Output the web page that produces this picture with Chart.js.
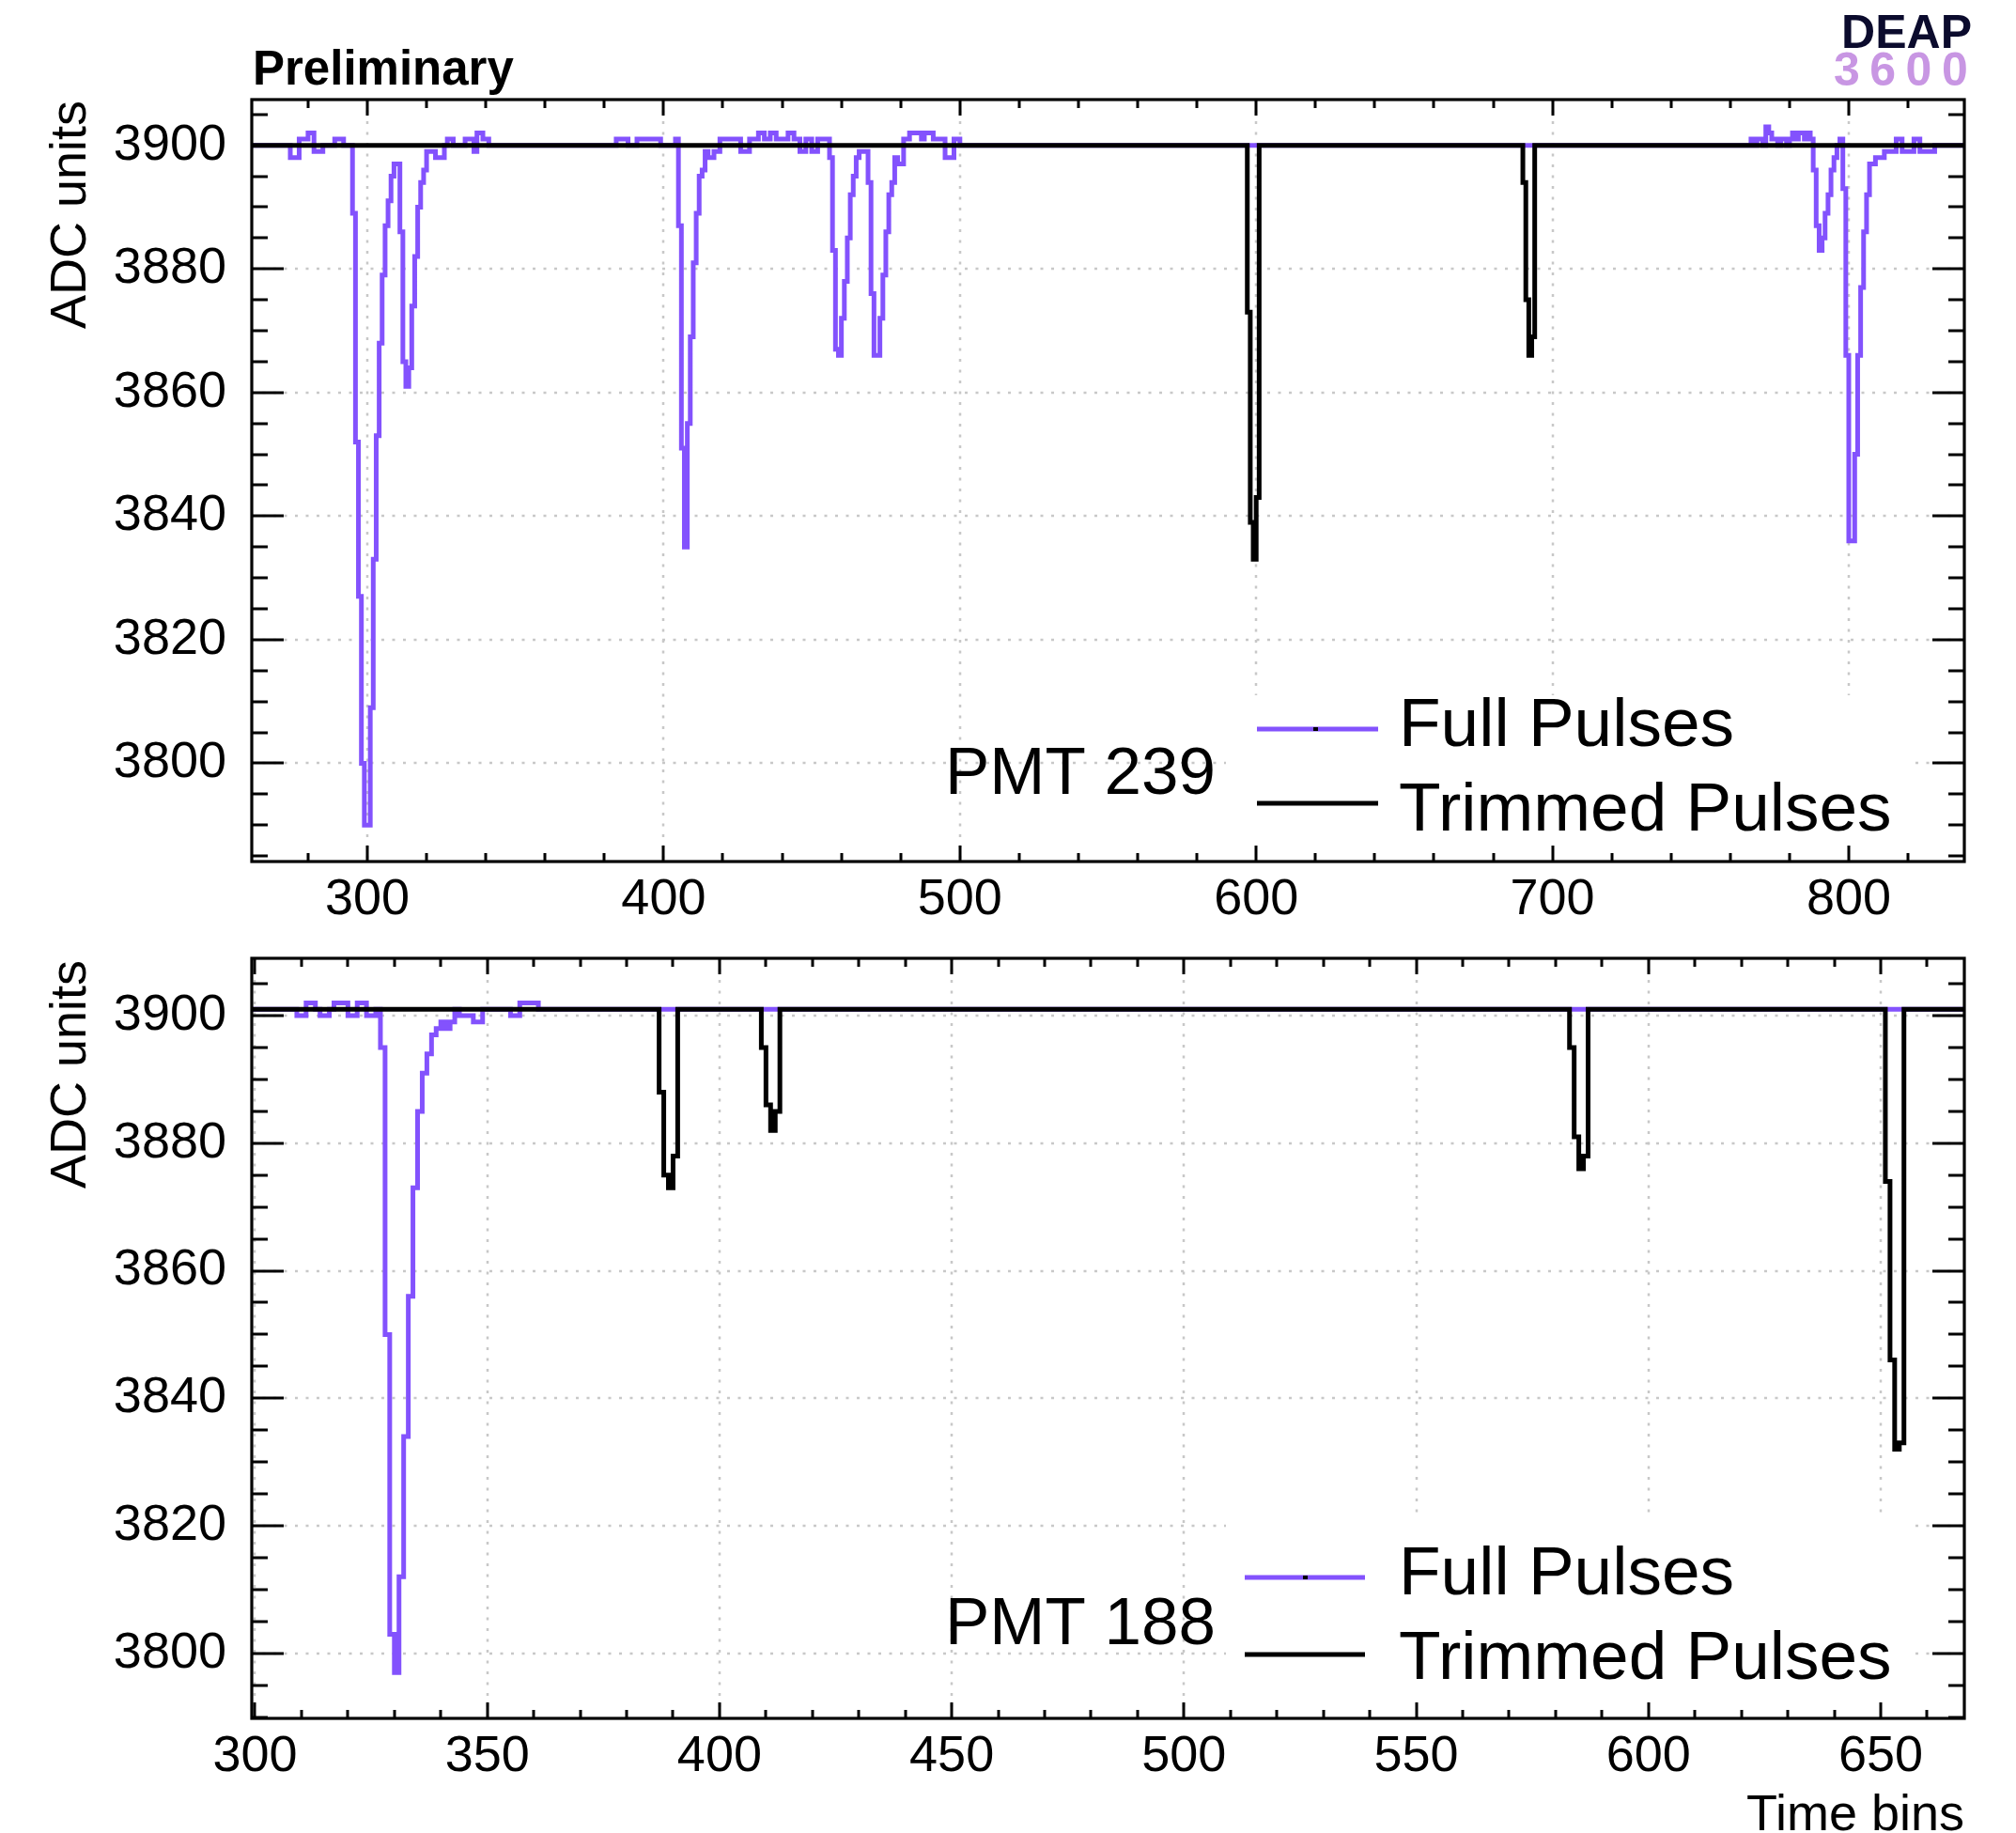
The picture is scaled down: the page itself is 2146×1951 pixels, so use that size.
<!DOCTYPE html>
<html>
<head>
<meta charset="utf-8">
<title>PMT pulses</title>
<script src="https://cdn.jsdelivr.net/npm/chart.js@4.4.1/dist/chart.umd.min.js"></script>
<style>
  html, body { margin: 0; padding: 0; background: #ffffff; }
  #wrap { position: relative; width: 2146px; height: 1951px; overflow: hidden; background: #fff; }
  canvas { position: absolute; left: 0; }
</style>
</head>
<body>
<div id="wrap">
  <canvas id="topChart" width="2146" height="1000" style="top:0px;width:2146px;height:1000px"></canvas>
  <canvas id="botChart" width="2146" height="991" style="top:960px;width:2146px;height:991px"></canvas>
</div>
<script>
// ===================== DATA =====================
// ---- Upper panel : PMT 239 ----
const top_xTicks = [300, 400, 500, 600, 700, 800];
const top_yTicks = [3800, 3820, 3840, 3860, 3880, 3900];
const top_baseline = 3900;            // ADC baseline of both series
const top_xRange = [261, 839];
const top_yRange = [3784.1, 3907.4];

// Full pulses (recorded windows), value per time bin starting at *_start
const top_full_1_start = 274;
const top_full_1 = [3898, 3898, 3898, 3901, 3901, 3901, 3902, 3902, 3899, 3899, 3899, 3900, 3900, 3900, 3900,
  3901, 3901, 3901, 3900, 3900, 3900,
  3889, 3852, 3827, 3800, 3790, 3790, 3809, 3833, 3853, 3868, 3879, 3887, 3891, 3895, 3897, 3897,
  3886, 3865, 3861, 3864, 3874, 3882, 3890, 3894, 3896, 3899, 3899, 3899, 3898, 3898, 3898,
  3900, 3901, 3901, 3900, 3900, 3900, 3900, 3901, 3901, 3901, 3899, 3902, 3902, 3901, 3901];

const top_full_2_start = 384;
const top_full_2 = [3901, 3901, 3901, 3901, 3900, 3900, 3900, 3901, 3901, 3901, 3901, 3901, 3901, 3901, 3901,
  3900, 3900, 3900, 3900, 3900, 3901,
  3887, 3851, 3835, 3855, 3869, 3881, 3889, 3895, 3896, 3899, 3898, 3898, 3899, 3899,
  3901, 3901, 3901, 3901, 3901, 3901, 3901, 3899, 3899, 3899, 3901, 3901, 3901, 3902, 3902, 3901, 3901,
  3902, 3902, 3901, 3901, 3901, 3901, 3902, 3902, 3901, 3901, 3899, 3899, 3901, 3901, 3899, 3899,
  3901, 3901, 3901, 3901,
  3898, 3883, 3867, 3866, 3872, 3878, 3885, 3892, 3895, 3898, 3899, 3899, 3899,
  3894, 3876, 3866, 3866, 3872, 3879, 3886, 3892, 3894, 3898, 3897, 3897,
  3901, 3901, 3902, 3902, 3902, 3902, 3901, 3902, 3902, 3902, 3901, 3901, 3901, 3901, 3898, 3898, 3898,
  3901, 3901];

const top_full_3_start = 767;
const top_full_3 = [3901, 3900, 3901, 3901, 3900, 3903, 3902, 3901, 3901, 3900, 3901, 3901, 3900, 3901, 3902,
  3901, 3902, 3902, 3901, 3902, 3901,
  3896, 3887, 3883, 3885, 3889, 3892, 3896, 3898, 3900, 3901,
  3893, 3866, 3836, 3836, 3850, 3866, 3877, 3886, 3892, 3897, 3897, 3898, 3898, 3898,
  3899, 3899, 3899, 3899, 3901, 3901, 3899, 3899, 3899, 3899, 3901, 3901, 3899, 3899, 3899, 3899, 3899];

// Trimmed pulses
const top_trim_1_start = 597;
const top_trim_1 = [3873, 3839, 3833, 3843];
const top_trim_2_start = 690;
const top_trim_2 = [3894, 3875, 3866, 3869];

// ---- Lower panel : PMT 188 ----
const bot_xTicks = [300, 350, 400, 450, 500, 550, 600, 650];
const bot_yTicks = [3800, 3820, 3840, 3860, 3880, 3900];
const bot_baseline = 3901;
const bot_xRange = [299.3, 668];
const bot_yRange = [3789.8, 3909.0];

const bot_full_1_start = 309;
const bot_full_1 = [3900, 3900, 3902, 3902, 3901, 3900, 3900, 3901, 3902, 3902, 3902, 3900, 3900, 3902, 3902,
  3900, 3900, 3901,
  3895, 3850, 3803, 3797, 3812, 3834, 3856, 3873, 3885, 3891, 3894, 3897, 3898, 3899, 3898, 3899,
  3901, 3900, 3900, 3900, 3899, 3899, 3901, 3901, 3901, 3901, 3901, 3901, 3900, 3900,
  3902, 3902, 3902, 3902];

const bot_trim_1_start = 387;
const bot_trim_1 = [3888, 3875, 3873, 3878];
const bot_trim_2_start = 409;
const bot_trim_2 = [3895, 3886, 3882, 3885];
const bot_trim_3_start = 583;
const bot_trim_3 = [3895, 3881, 3876, 3878];
const bot_trim_4_start = 651;
const bot_trim_4 = [3874, 3846, 3832, 3833];

// ===================== RENDERING =====================
const FONT = '"Liberation Sans", Arial, Helvetica, sans-serif';
const PURPLE = '#8352fd';

function buildSeries(range, base, segs) {
  const vals = new Map();
  segs.forEach(([start, arr]) => arr.forEach((v, i) => vals.set(start + i, v)));
  const pts = [];
  const b0 = Math.floor(range[0]), b1 = Math.ceil(range[1]);
  let last = base;
  for (let b = b0; b < b1; b++) {
    last = vals.has(b) ? vals.get(b) : base;
    pts.push({ x: b, y: last });
  }
  pts.push({ x: b1, y: last });
  return pts;
}

function text(ctx, str, x, y, font, align, color) {
  ctx.save();
  ctx.font = font;
  ctx.textAlign = align || 'left';
  ctx.textBaseline = 'alphabetic';
  ctx.fillStyle = color || '#000';
  ctx.fillText(str, x, y);
  ctx.restore();
}

function panelPlugin(c) {
  return {
    id: 'rootStyle' + c.id,
    beforeDatasetsDraw(chart) {
      const { ctx, chartArea: a, scales: { x, y } } = chart;
      // dotted grid at major ticks
      ctx.save();
      ctx.beginPath(); ctx.rect(a.left, a.top, a.width, a.height); ctx.clip();
      ctx.strokeStyle = '#c8c8c8'; ctx.lineWidth = 2.5; ctx.setLineDash([3, 8.5]);
      c.xTicks.forEach(v => {
        const px = Math.round(x.getPixelForValue(v));
        ctx.beginPath(); ctx.moveTo(px, a.top); ctx.lineTo(px, a.bottom); ctx.stroke();
      });
      c.yTicks.forEach(v => {
        const py = Math.round(y.getPixelForValue(v));
        ctx.beginPath(); ctx.moveTo(a.left, py); ctx.lineTo(a.right, py); ctx.stroke();
      });
      ctx.restore();
      // legend box (white, covers grid)
      const L = c.legend, oy = c.offsetY;
      ctx.save();
      ctx.fillStyle = '#ffffff';
      ctx.fillRect(L.box[0], L.box[1] - oy, L.box[2] - L.box[0], L.box[3] - L.box[1]);
      ctx.restore();
    },
    afterDraw(chart) {
      const { ctx, chartArea: a, scales: { x, y } } = chart;
      const oy = c.offsetY;
      // ticks inside frame on all four sides
      ctx.save();
      ctx.strokeStyle = '#000'; ctx.lineWidth = 3; ctx.lineCap = 'butt';
      ctx.beginPath();
      for (let k = Math.ceil(x.min / c.xMinor); k * c.xMinor <= x.max; k++) {
        const v = k * c.xMinor;
        const px = Math.round(x.getPixelForValue(v));
        const len = (v % c.xMajor === 0) ? 17 : 9;
        ctx.moveTo(px, a.bottom); ctx.lineTo(px, a.bottom - len);
        ctx.moveTo(px, a.top); ctx.lineTo(px, a.top + len);
      }
      for (let k = Math.ceil(y.min / c.yMinor); k * c.yMinor <= y.max; k++) {
        const v = k * c.yMinor;
        const py = Math.round(y.getPixelForValue(v));
        const len = (v % c.yMajor === 0) ? 34 : 17;
        ctx.moveTo(a.left, py); ctx.lineTo(a.left + len, py);
        ctx.moveTo(a.right, py); ctx.lineTo(a.right - len, py);
      }
      ctx.stroke();
      ctx.lineWidth = 3.2;
      ctx.strokeRect(a.left, a.top, a.right - a.left, a.bottom - a.top);
      ctx.restore();

      // y axis title
      ctx.save();
      ctx.translate(91, c.ytitleEnd - oy);
      ctx.rotate(-Math.PI / 2);
      ctx.font = '54px ' + FONT; ctx.textAlign = 'right'; ctx.textBaseline = 'alphabetic';
      ctx.fillStyle = '#000';
      ctx.fillText('ADC units', 0, 0);
      ctx.restore();

      // PMT label
      text(ctx, c.pmt, 1006, c.pmtY - oy, '71px ' + FONT, 'left');

      // legend
      const L = c.legend;
      ctx.save();
      ctx.lineCap = 'butt';
      ctx.lineWidth = 5;
      ctx.strokeStyle = PURPLE;
      ctx.beginPath(); ctx.moveTo(L.x0, L.y1 - oy); ctx.lineTo(L.x1, L.y1 - oy); ctx.stroke();
      ctx.fillStyle = '#000';
      ctx.fillRect(L.mx - 2, L.y1 - oy - 2, 5, 4);
      ctx.strokeStyle = '#000';
      ctx.beginPath(); ctx.moveTo(L.x0, L.y2 - oy); ctx.lineTo(L.x1, L.y2 - oy); ctx.stroke();
      ctx.restore();
      text(ctx, 'Full Pulses', 1489, L.t1 - oy, '73px ' + FONT, 'left');
      text(ctx, 'Trimmed Pulses', 1489, L.t2 - oy, '73px ' + FONT, 'left');

      if (c.extra) c.extra(ctx, oy);
    }
  };
}

function makePanel(c) {
  const full = buildSeries(c.xRange, c.baseline, c.fullSegs);
  const trim = buildSeries(c.xRange, c.baseline, c.trimSegs);
  return new Chart(document.getElementById(c.id), {
    type: 'line',
    data: {
      datasets: [
        { label: 'Trimmed Pulses', data: trim, borderColor: '#000000', borderWidth: 5, stepped: 'before',
          pointRadius: 0, fill: false, order: 0, borderJoinStyle: 'miter', borderCapStyle: 'butt' },
        { label: 'Full Pulses', data: full, borderColor: PURPLE, borderWidth: 5, stepped: 'before',
          pointRadius: 0, fill: false, order: 1, borderJoinStyle: 'miter', borderCapStyle: 'butt' }
      ]
    },
    options: {
      responsive: false, animation: false, events: [],
      devicePixelRatio: 1,
      layout: { padding: { left: 0, right: 55, top: c.padTop, bottom: 0 } },
      plugins: { legend: { display: false }, tooltip: { enabled: false }, title: { display: false } },
      scales: {
        x: {
          type: 'linear', min: c.xRange[0], max: c.xRange[1],
          afterBuildTicks: s => { s.ticks = c.xTicks.map(v => ({ value: v })); },
          afterFit: s => { s.height = c.xAxisH; },
          grid: { display: false, drawTicks: false }, border: { display: false },
          ticks: { font: { family: FONT, size: 54 }, color: '#000', padding: 9, maxRotation: 0,
                   autoSkip: false, callback: v => String(v) }
        },
        y: {
          type: 'linear', min: c.yRange[0], max: c.yRange[1],
          afterBuildTicks: s => { s.ticks = c.yTicks.map(v => ({ value: v })); },
          afterFit: s => { s.width = 268; },
          grid: { display: false, drawTicks: false }, border: { display: false },
          ticks: { font: { family: FONT, size: 54 }, color: '#000', padding: 27,
                   autoSkip: false, callback: v => String(v) }
        }
      }
    },
    plugins: [panelPlugin(c)]
  });
}

makePanel({
  id: 'topChart', offsetY: 0, padTop: 106, xAxisH: 83,
  xRange: top_xRange, yRange: top_yRange, xTicks: top_xTicks, yTicks: top_yTicks,
  xMinor: 20, xMajor: 100, yMinor: 5, yMajor: 20,
  baseline: top_baseline,
  fullSegs: [[top_full_1_start, top_full_1], [top_full_2_start, top_full_2], [top_full_3_start, top_full_3]],
  trimSegs: [[top_trim_1_start, top_trim_1], [top_trim_2_start, top_trim_2]],
  ytitleEnd: 107, pmt: 'PMT 239', pmtY: 845,
  legend: { box: [1305, 740, 2031, 915], x0: 1338, x1: 1467, mx: 1400, y1: 776, y2: 855, t1: 794, t2: 884 },
  extra: (ctx, oy) => {
    text(ctx, 'Preliminary', 269, 90, 'bold 51px ' + FONT, 'left');
    text(ctx, 'DEAP', 2099, 51, 'bold 50px ' + FONT, 'right', '#0b0b2d');
    ctx.save();
    ctx.font = 'bold 50px ' + FONT; ctx.fillStyle = '#c896e3'; ctx.textAlign = 'left';
    ctx.letterSpacing = '10.5px';
    ctx.fillText('3600', 1952, 91);
    ctx.restore();
  }
});

makePanel({
  id: 'botChart', offsetY: 960, padTop: 60, xAxisH: 122,
  xRange: bot_xRange, yRange: bot_yRange, xTicks: bot_xTicks, yTicks: bot_yTicks,
  xMinor: 10, xMajor: 50, yMinor: 5, yMajor: 20,
  baseline: bot_baseline,
  fullSegs: [[bot_full_1_start, bot_full_1]],
  trimSegs: [[bot_trim_1_start, bot_trim_1], [bot_trim_2_start, bot_trim_2],
             [bot_trim_3_start, bot_trim_3], [bot_trim_4_start, bot_trim_4]],
  ytitleEnd: 1022, pmt: 'PMT 188', pmtY: 1750,
  legend: { box: [1305, 1615, 2031, 1827], x0: 1325, x1: 1453, mx: 1389, y1: 1679, y2: 1761, t1: 1697, t2: 1787 },
  extra: (ctx, oy) => {
    text(ctx, 'Time bins', 2091, 1948 - oy, '54px ' + FONT, 'right');
  }
});
</script>
</body>
</html>
